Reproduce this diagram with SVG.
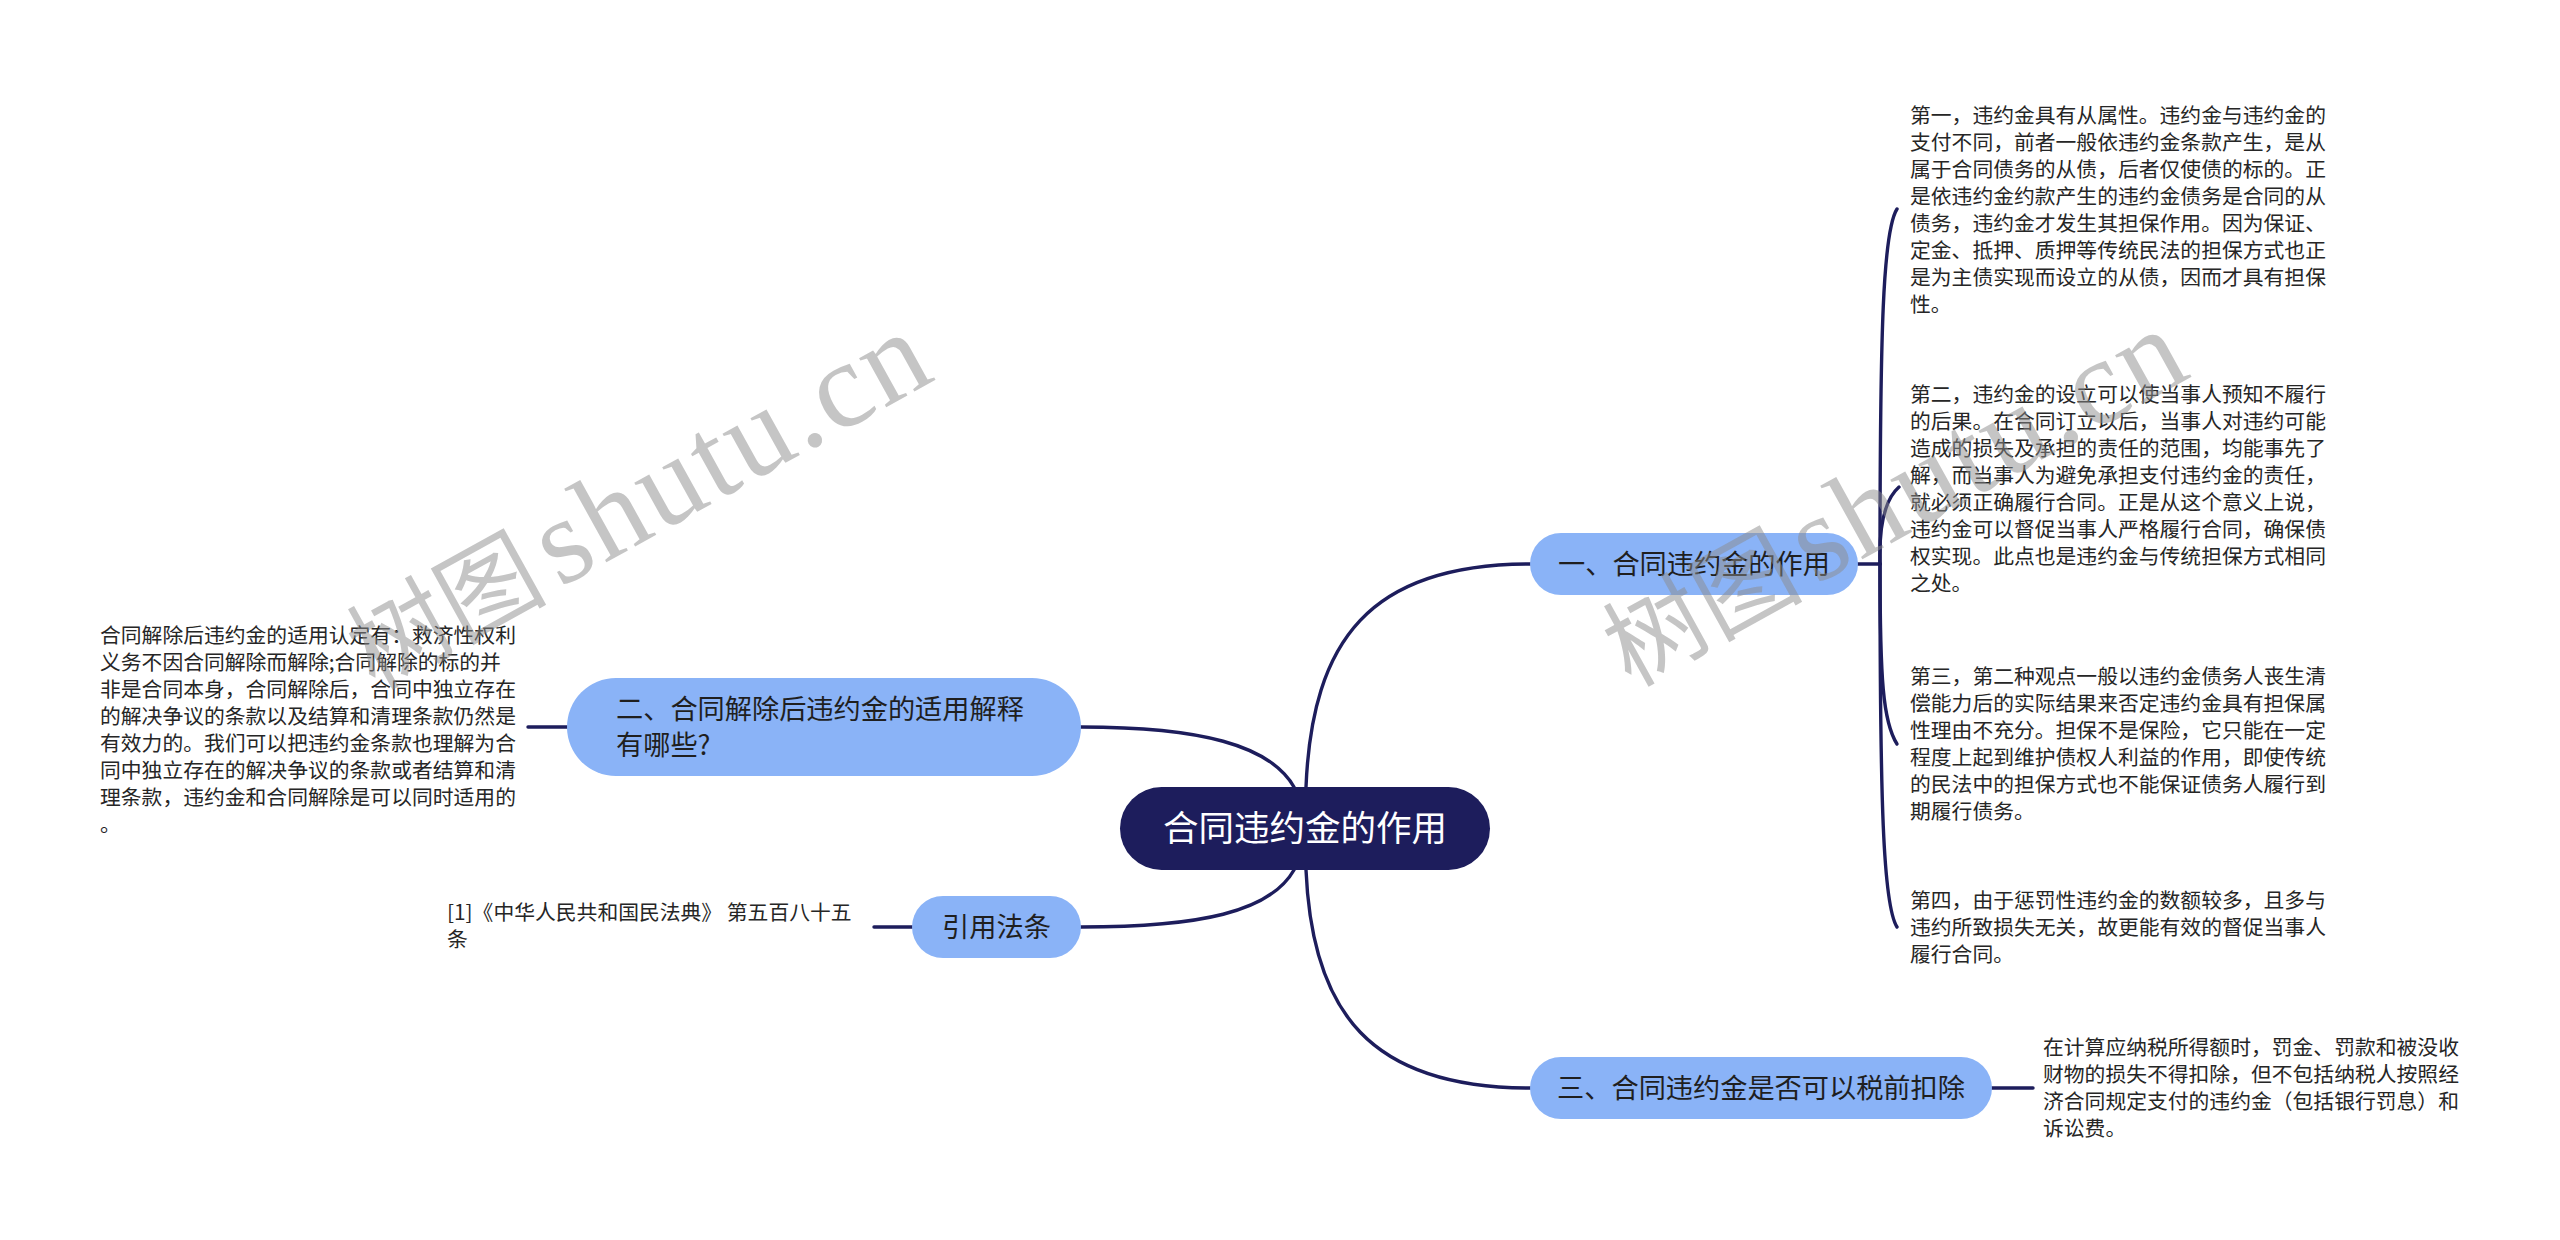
<svg xmlns="http://www.w3.org/2000/svg" width="2560" height="1240" viewBox="0 0 2560 1240">
<style>
.bg{fill:#ffffff}
.link{fill:none;stroke:#1d1d5c;stroke-width:3.4;stroke-linecap:round}
.root rect{fill:#1d1d5c}
.root text{fill:#ffffff;font-family:"Noto Sans CJK SC","Noto Sans",sans-serif;font-size:35.5px;text-anchor:middle}
.n1 rect{fill:#8ab3f7}
.n1 text{fill:#1f1f1f;font-family:"Noto Sans CJK SC","Noto Sans",sans-serif;font-size:27.2px}
.leaf text{fill:#262626;font-family:"Noto Sans CJK SC","Noto Sans",sans-serif;font-size:20.8px}
.wm{fill:#8c8c8c;fill-opacity:0.5}
.wm .cj{font-family:"Noto Sans CJK SC",sans-serif;font-size:100px;font-weight:400}
.wm .la{font-family:"Liberation Serif",serif;font-size:122px;letter-spacing:3px}
</style>
<rect class="bg" x="0" y="0" width="2560" height="1240"/>

<g id="connectors">
  <path class="link" d="M1306 787 C1312 640 1370 564 1530 564"/>
  <path class="link" d="M1306 870 C1312 1012 1370 1088 1530 1088"/>
  <path class="link" d="M1294 787 C1270 745 1200 727 1081 727"/>
  <path class="link" d="M1294 870 C1270 912 1200 927 1081 927"/>
  <path class="link" d="M1858 564 L1880 564"/>
  <path class="link" d="M1880 564 C1880 330 1883 231 1897 209"/>
  <path class="link" d="M1880 564 C1879 530 1884 500 1899 487"/>
  <path class="link" d="M1880 564 C1880 680 1883 722 1897 744"/>
  <path class="link" d="M1880 564 C1880 800 1883 905 1897 927"/>
  <path class="link" d="M1992 1088 L2033 1088"/>
  <path class="link" d="M567 727 L528 727"/>
  <path class="link" d="M912 927 L874 927"/>
</g>

<g id="root" class="root">
  <rect x="1120" y="787" width="370" height="83" rx="41.5"/>
  <text x="1305" y="841">合同违约金的作用</text>
</g>

<g id="node-1" class="n1">
  <rect x="1530" y="533" width="328" height="62" rx="31"/>
  <text x="1694" y="574" text-anchor="middle">一、合同违约金的作用</text>
</g>

<g id="node-2" class="n1">
  <rect x="567" y="678" width="514" height="98" rx="49"/>
  <text x="616" y="719">二、合同解除后违约金的适用解释</text>
  <text x="616" y="755">有哪些?</text>
</g>

<g id="node-3" class="n1">
  <rect x="1530" y="1057" width="462" height="62" rx="31"/>
  <text x="1761" y="1098" text-anchor="middle">三、合同违约金是否可以税前扣除</text>
</g>

<g id="node-law" class="n1">
  <rect x="912" y="896" width="169" height="62" rx="31"/>
  <text x="996.5" y="937" text-anchor="middle">引用法条</text>
</g>

<g id="leaf-1-1" class="leaf">
  <text x="1910" y="123">第一，违约金具有从属性。违约金与违约金的</text>
  <text x="1910" y="150">支付不同，前者一般依违约金条款产生，是从</text>
  <text x="1910" y="177">属于合同债务的从债，后者仅使债的标的。正</text>
  <text x="1910" y="204">是依违约金约款产生的违约金债务是合同的从</text>
  <text x="1910" y="231">债务，违约金才发生其担保作用。因为保证、</text>
  <text x="1910" y="258">定金、抵押、质押等传统民法的担保方式也正</text>
  <text x="1910" y="285">是为主债实现而设立的从债，因而才具有担保</text>
  <text x="1910" y="312">性。</text>
</g>

<g id="leaf-1-2" class="leaf">
  <text x="1910" y="402">第二，违约金的设立可以使当事人预知不履行</text>
  <text x="1910" y="429">的后果。在合同订立以后，当事人对违约可能</text>
  <text x="1910" y="456">造成的损失及承担的责任的范围，均能事先了</text>
  <text x="1910" y="483">解，而当事人为避免承担支付违约金的责任，</text>
  <text x="1910" y="510">就必须正确履行合同。正是从这个意义上说，</text>
  <text x="1910" y="537">违约金可以督促当事人严格履行合同，确保债</text>
  <text x="1910" y="564">权实现。此点也是违约金与传统担保方式相同</text>
  <text x="1910" y="591">之处。</text>
</g>

<g id="leaf-1-3" class="leaf">
  <text x="1910" y="684">第三，第二种观点一般以违约金债务人丧生清</text>
  <text x="1910" y="711">偿能力后的实际结果来否定违约金具有担保属</text>
  <text x="1910" y="738">性理由不充分。担保不是保险，它只能在一定</text>
  <text x="1910" y="765">程度上起到维护债权人利益的作用，即使传统</text>
  <text x="1910" y="792">的民法中的担保方式也不能保证债务人履行到</text>
  <text x="1910" y="819">期履行债务。</text>
</g>

<g id="leaf-1-4" class="leaf">
  <text x="1910" y="908">第四，由于惩罚性违约金的数额较多，且多与</text>
  <text x="1910" y="935">违约所致损失无关，故更能有效的督促当事人</text>
  <text x="1910" y="962">履行合同。</text>
</g>

<g id="leaf-3-1" class="leaf">
  <text x="2043" y="1055">在计算应纳税所得额时，罚金、罚款和被没收</text>
  <text x="2043" y="1082">财物的损失不得扣除，但不包括纳税人按照经</text>
  <text x="2043" y="1109">济合同规定支付的违约金（包括银行罚息）和</text>
  <text x="2043" y="1136">诉讼费。</text>
</g>

<g id="leaf-2-1" class="leaf">
  <text x="100" y="643">合同解除后违约金的适用认定有：救济性权利</text>
  <text x="100" y="670">义务不因合同解除而解除;合同解除的标的并</text>
  <text x="100" y="697">非是合同本身，合同解除后，合同中独立存在</text>
  <text x="100" y="724">的解决争议的条款以及结算和清理条款仍然是</text>
  <text x="100" y="751">有效力的。我们可以把违约金条款也理解为合</text>
  <text x="100" y="778">同中独立存在的解决争议的条款或者结算和清</text>
  <text x="100" y="805">理条款，违约金和合同解除是可以同时适用的</text>
  <text x="100" y="832">。</text>
</g>

<g id="leaf-law-1" class="leaf">
  <text x="447" y="920">[1]《中华人民共和国民法典》 第五百八十五</text>
  <text x="447" y="947">条</text>
</g>

<g id="watermarks" class="wm">
  <g transform="translate(560 588) rotate(-29)">
    <text class="cj" x="-212" y="0">树图</text>
    <text class="la" x="0" y="0">shutu.cn</text>
  </g>
  <g transform="translate(1816 585) rotate(-29)">
    <text class="cj" x="-212" y="0">树图</text>
    <text class="la" x="0" y="0">shutu.cn</text>
  </g>
</g>
</svg>
